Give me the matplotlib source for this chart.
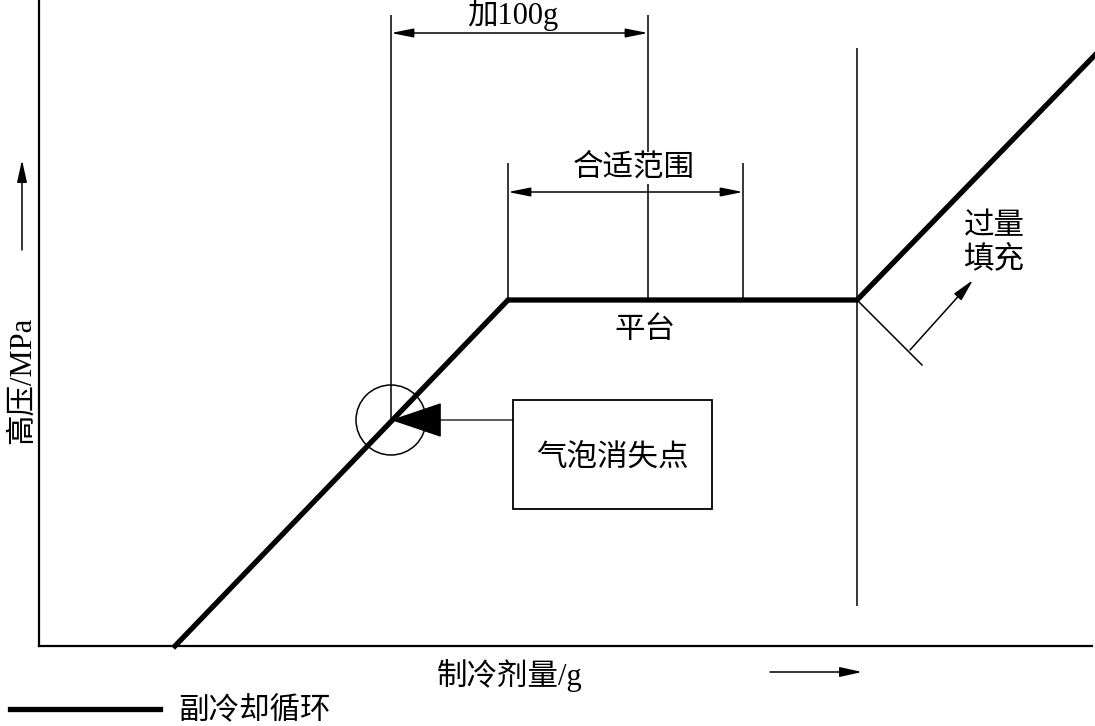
import matplotlib
matplotlib.use("Agg")
import matplotlib.pyplot as plt
from matplotlib.patches import Circle, Rectangle

plt.rcParams['font.family'] = ['Liberation Serif', 'Noto Sans CJK SC', 'DejaVu Sans']

# schematic curve: refrigerant charge vs high-side pressure (arbitrary units)
charge = [136, 469, 818, 1056]
pressure = [0, 346, 346, 591]

# key charge positions
bubble_x = 352        # bubble disappearance point
plus100_x = 609       # +100 g
range_lo, range_hi = 469, 704
overfill_x = 818
bubble_y = 226

FS = 22

fig = plt.figure(figsize=(10.95, 7.26), dpi=100)
ax = fig.add_axes([39 / 1095, 80 / 726, 1053 / 1095, 646 / 726])
ax.set_xlim(0, 1053)
ax.set_ylim(0, 646)
ax.set_xticks([])
ax.set_yticks([])
for s in ['top', 'right']:
    ax.spines[s].set_visible(False)
for s in ['left', 'bottom']:
    ax.spines[s].set_linewidth(1.6)

# main curve
ax.plot(charge, pressure, color='black', lw=3.8, clip_on=False,
        solid_joinstyle='miter', label='副冷却循环')

# vertical guide lines
ax.vlines(bubble_x, bubble_y, 631, color='black', lw=1.1)
ax.vlines(plus100_x, pressure[1], 631, color='black', lw=1.1)
ax.vlines([range_lo, range_hi], pressure[1], 483, color='black', lw=1.1)
ax.vlines(overfill_x, 40, 598, color='black', lw=1.1)

dim = dict(arrowstyle='<|-|>,head_length=0.9,head_width=0.18', color='black',
           lw=1.1, shrinkA=0, shrinkB=0, mutation_scale=15)
ax.annotate('', xy=(bubble_x, 613), xytext=(plus100_x, 613), arrowprops=dim)
ax.annotate('', xy=(range_lo, 454), xytext=(range_hi, 454), arrowprops=dim)

ax.text(474, 631, '加100g', fontsize=FS, ha='center', va='center')
ax.text(595, 478, '合适范围', fontsize=FS, ha='center', va='center',
        bbox=dict(fc='white', ec='none', pad=1))
ax.text(606, 316, '平台', fontsize=FS, ha='center', va='center')

# overfill marker
ax.plot([overfill_x, 883], [346, 281], color='black', lw=1.1)
ax.annotate('', xy=(934, 366), xytext=(871, 296),
            arrowprops=dict(arrowstyle='-|>,head_length=0.9,head_width=0.2',
                            color='black', lw=1.1, shrinkA=0, shrinkB=0,
                            mutation_scale=15))
ax.text(955, 403, '过量\n填充', fontsize=FS, ha='center', va='center',
        linespacing=1.2)

# bubble disappearance point
ax.add_patch(Circle((bubble_x, bubble_y), 35, fill=False, ec='black', lw=1.1))
ax.annotate('', xy=(bubble_x, bubble_y), xytext=(474, bubble_y),
            arrowprops=dict(arrowstyle='-|>,head_length=3.4,head_width=1.15',
                            color='black', lw=0.9, shrinkA=0, shrinkB=0,
                            mutation_scale=10))
ax.add_patch(Rectangle((474, 137), 199, 109, fill=False, ec='black', lw=1.3))
ax.text(573, 188, '气泡消失点', fontsize=FS, ha='center', va='center')

# axis labels with direction arrows
ax.text(-17, 266, '高压/MPa', fontsize=FS, rotation=90, ha='center', va='center')
ax.annotate('', xy=(-17, 486), xytext=(-17, 396), annotation_clip=False,
            arrowprops=dict(arrowstyle='-|>,head_length=0.9,head_width=0.2',
                            color='black', lw=1.1, shrinkA=0, shrinkB=0,
                            mutation_scale=15))
ax.text(471, -30, '制冷剂量/g', fontsize=FS, ha='center', va='center')
ax.annotate('', xy=(823, -26), xytext=(731, -26), annotation_clip=False,
            arrowprops=dict(arrowstyle='-|>,head_length=0.9,head_width=0.2',
                            color='black', lw=1.1, shrinkA=0, shrinkB=0,
                            mutation_scale=15))

ax.legend(loc='center left', bbox_to_anchor=(10 / 1095, 14 / 726),
          bbox_transform=fig.transFigure, frameon=False, fontsize=FS,
          handlelength=4.9, handletextpad=0.6, borderpad=0, borderaxespad=0)

fig.savefig('out.png', dpi=100)
